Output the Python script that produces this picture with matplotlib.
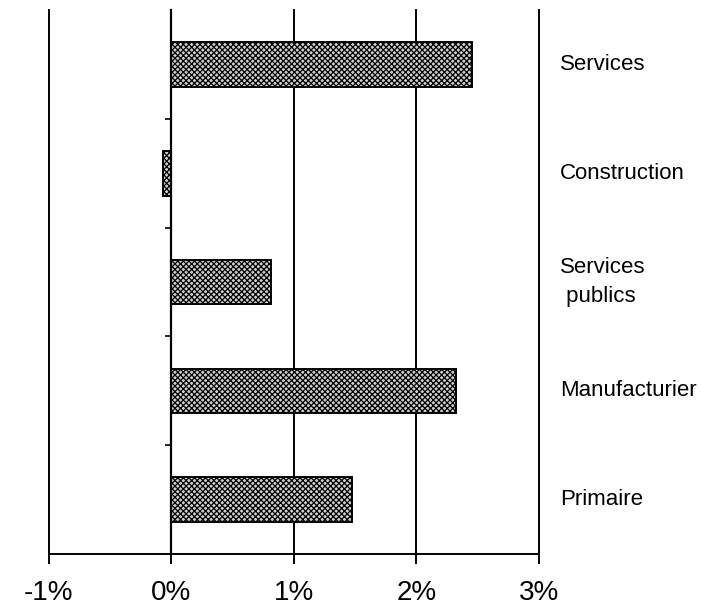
import numpy as np
import matplotlib.pyplot as plt
import matplotlib.transforms as mtransforms

plt.rcParams['font.family'] = ['Liberation Sans', 'DejaVu Sans']
plt.rcParams['hatch.linewidth'] = 0.9

# secteurs, du bas vers le haut
secteurs = ['Primaire', 'Manufacturier', 'Services\n publics', 'Construction', 'Services']
croissance = [1.47, 2.32, 0.81, -0.07, 2.45]   # en %
xticks = [-1, 0, 1, 2, 3]
xlabels = ['-1%', '0%', '1%', '2%', '3%']

fig = plt.figure(figsize=(7.01, 6.13), dpi=100)
ax = fig.add_axes([0.0699, 0.0962, 0.699, 0.8875])

pos = np.arange(len(secteurs))
ax.barh(pos, croissance, height=0.41, color='#cfcfcf', edgecolor='black',
        linewidth=1.4, hatch='xxxxxx', zorder=3)

ax.set_xlim(-1, 3)
ax.set_ylim(-0.5, len(secteurs) - 0.5)
ax.set_xticks(xticks)
ax.set_xticklabels(xlabels, fontsize=20)
ax.tick_params(axis='x', direction='out', length=7, width=1.4, pad=12)
ax.set_yticks(pos[:-1] + 0.5)
ax.set_yticklabels([])
ax.tick_params(axis='y', direction='out', length=4, width=1.2)

ax.grid(axis='x', color='black', linewidth=1.4, zorder=1)
for gl in ax.get_xgridlines():
    gl.set_clip_on(False)
ax.spines['top'].set_visible(False)
ax.spines['right'].set_visible(False)
ax.spines['left'].set_position(('data', 0))
ax.spines['left'].set_linewidth(1.6)
ax.spines['left'].set_zorder(4)
ax.spines['bottom'].set_linewidth(1.4)

trans = mtransforms.blended_transform_factory(ax.transAxes, ax.transData)
for p, nom in zip(pos, secteurs):
    ax.text(1.043, p, nom, transform=trans, ha='left', va='center',
            fontsize=16, linespacing=1.5)

plt.savefig('out.png', dpi=100)
